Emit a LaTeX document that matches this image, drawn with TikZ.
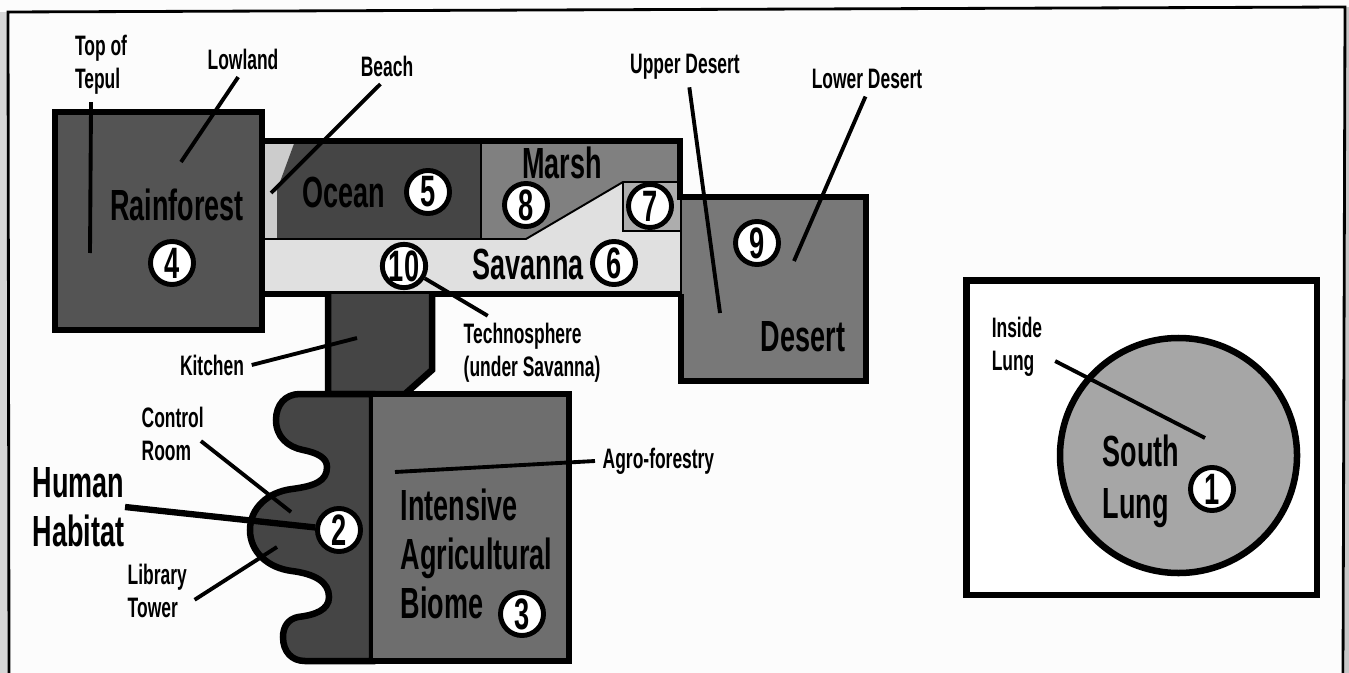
\documentclass[tikz,border=0pt]{standalone}
\usepackage{fontspec}
\setmainfont[FakeStretch=0.62]{Liberation Sans}
\begin{document}
\begin{tikzpicture}[x=0.01cm, y=-0.01cm,
    wall/.style={draw, line width=1.85pt, line join=miter},
    thinwall/.style={draw, line width=0.55pt},
    line/.style={draw, line width=1.1pt},
    thickline/.style={draw, line width=1.8pt},
    numcirc/.style={circle, draw, fill=white, line width=1.4pt, minimum size=0.43cm, inner sep=0pt, font=\fontsize{12.5}{14}\selectfont\bfseries},
    biglabel/.style={align=left, inner sep=0pt, font=\fontsize{12.4}{13.9}\selectfont\bfseries},
    smalllabel/.style={align=left, inner sep=2pt, font=\fontsize{8}{9.3}\selectfont\bfseries}]
    \useasboundingbox (0,0) rectangle (1349,673);
    % page and frame
    \fill [black!1] (0,0) rectangle (1349,673);
    \fill [black!16] (0,12) rectangle (9,673);
    \fill [black!22] (1345,7) rectangle (1349,673);
    \draw [line width=0.8pt] (9,673) -- (8,12) -- (1345,7) -- (1343,673);

    % savanna strip and the biomes on it
    \fill [black!12] (262,141) rectangle (680,294);
    \fill [black!20] (262,141) -- (295,141) -- (277,190) -- (277,239) -- (262,239) -- cycle;
    \fill [black!73] (295,141) -- (277,190) -- (277,239) -- (481,239) -- (481,141) -- cycle;
    \fill [black!50] (481,141) -- (481,239) -- (526,239) -- (623,182) -- (680,182) -- (680,141) -- cycle;
    \fill [black!32] (623,182) rectangle (680,231);
    \path [thinwall] (277,239) -- (526,239) -- (623,182) -- (680,182);
    \path [thinwall] (623,182) -- (623,231) -- (680,231);
    \path [thinwall] (481,141) -- (481,239);
    \path [thinwall] (262,239) -- (277,239);
    \path [wall] (262,141) -- (680,141) -- (680,197);
    \path [wall] (262,294) -- (681,294);

    % rainforest and desert
    \path [wall, fill=black!67] (55,112) rectangle (262,330);
    \path [fill=black!53] (681,197) rectangle (866,381);
    \path [thinwall] (681,197) -- (681,294);
    \path [wall] (681,294) -- (681,381) -- (866,381) -- (866,197) -- (677,197);

    % kitchen, habitat, agricultural biome
    \path [wall, fill=black!73] (328,294) -- (328,394) -- (405,394) -- (432,370) -- (432,294);
    \path [wall, fill=black!73, line cap=round] (372,394) -- (300,394)
        .. controls (285,394) and (276,405) .. (276,420)
        .. controls (276,437) and (288,447) .. (303,450)
        .. controls (318,453) and (327,458) .. (327,467)
        .. controls (327,481) and (315,486) .. (292,489)
        .. controls (268,492) and (250,508) .. (250,530)
        .. controls (250,552) and (268,568) .. (292,571)
        .. controls (315,574) and (329,582) .. (329,597)
        .. controls (329,610) and (315,615) .. (298,617)
        .. controls (288,619) and (283,627) .. (283,637)
        .. controls (283,652) and (292,661) .. (305,661)
        -- (372,661) -- cycle;
    \path [fill=black!57] (372,394) rectangle (569,661);
    \path [wall] (372,394) -- (569,394) -- (569,661) -- (372,661);
    \path [thinwall] (372,394) -- (372,661);

    % south lung
    \path [wall, fill=white] (966.5,280.5) rectangle (1317,595);
    \path [wall, fill=black!35] (1178.5,455.5) ellipse [x radius=118.5, y radius=117.5];

    % biome names
    \node [biglabel] (rainforest) at (177,205) {Rainforest};
    \node [biglabel] (ocean) at (344,192) {Ocean};
    \node [biglabel] (marsh) at (562,163) {Marsh};
    \node [biglabel] (savanna) at (528,264) {Savanna};
    \node [biglabel] (desert) at (803,337) {Desert};
    \node [biglabel, anchor=west] (southlung) at (1102,481) {South\\[0.9pt]Lung};
    \node [biglabel, anchor=west] (agri) at (400,554) {Intensive\\Agricultural\\Biome};
    \node [biglabel, anchor=west] (habitat) at (32,507) {Human\\Habitat};

    % small labels
    \node [smalllabel] (tepul) at (101,65) {Top of\\Tepul};
    \node [smalllabel] (lowland) at (243,59) {Lowland};
    \node [smalllabel] (beach) at (387,66) {Beach};
    \node [smalllabel] (upperdesert) at (685,67) {Upper Desert};
    \node [smalllabel] (lowerdesert) at (867,79) {Lower Desert};
    \node [smalllabel, anchor=west] (techno) at (456,353) {Technosphere\\(under Savanna)};
    \node [smalllabel] (kitchen) at (212,365) {Kitchen};
    \node [smalllabel, anchor=west] (control) at (134,434) {Control\\Room};
    \node [smalllabel, anchor=west] (library) at (120,591) {Library\\Tower};
    \node [smalllabel, anchor=west] (agro) at (595,461) {Agro-forestry};
    \node [smalllabel, anchor=west] (inside) at (984,347) {Inside\\Lung};

    % numbers
    \node [numcirc] (num1) at (1212,489) {1};
    \node [numcirc] (num2) at (339,530) {2};
    \node [numcirc] (num3) at (522,614) {3};
    \node [numcirc] (num4) at (172,263) {4};
    \node [numcirc] (num5) at (428,192) {5};
    \node [numcirc] (num6) at (614,263) {6};
    \node [numcirc] (num7) at (650,206) {7};
    \node [numcirc] (num8) at (526,205) {8};
    \node [numcirc] (num9) at (757,243) {9};
    \node [numcirc] (num10) at (404,266) {10};

    % free ends of the leaders
    \coordinate (tepulend) at (90,253);
    \coordinate (lowlandend) at (181,162);
    \coordinate (beachend) at (271,193);
    \coordinate (upperend) at (720,313);
    \coordinate (lowerend) at (794,261);
    \coordinate (kitchenend) at (357,338);
    \coordinate (controlend) at (291,512);
    \coordinate (libraryend) at (277,547);
    \coordinate (agroend) at (395,472);
    \coordinate (insideend) at (1205,438);

    \path [line] (tepul.-105) -- (tepulend);
    \path [line] (lowland.-105) -- (lowlandend);
    \path [line] (beach.-110) -- (beachend);
    \path [line] (upperdesert.-78) -- (upperend);
    \path [line] (lowerdesert.-95) -- (lowerend);
    \path [line] (kitchen.east) -- (kitchenend);
    \path [line] ([xshift=-3pt,yshift=-2pt]control.east) -- (controlend);
    \path [line] ([yshift=-2.5pt]library.east) -- (libraryend);
    \path [line] (agro.west) -- (agroend);
    \path [line] ([xshift=1.5pt,yshift=-4pt]inside.east) -- (insideend);
    \path [line] (num10) -- (techno.140);
    \path [thickline] (habitat.east) -- (num2);
\end{tikzpicture}
\end{document}
